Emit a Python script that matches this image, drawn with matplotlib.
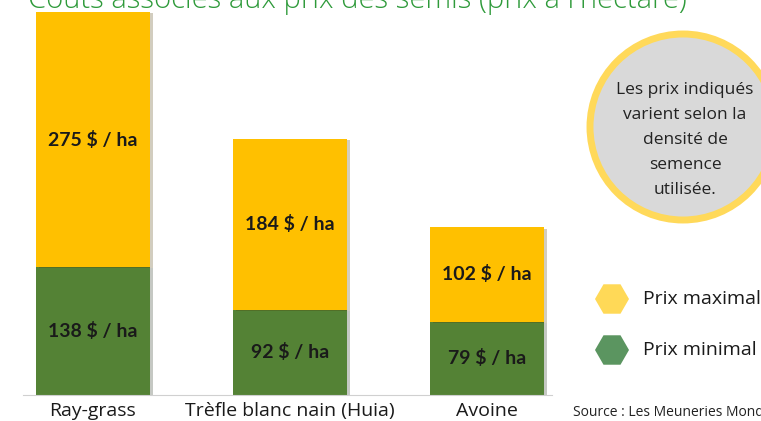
import matplotlib.pyplot as plt
import matplotlib.patheffects as pe
from matplotlib.patches import Circle, RegularPolygon

categories = ["Ray-grass", "Trèfle blanc nain (Huia)", "Avoine"]
prix_minimal = [138, 92, 79]
prix_maximal = [275, 184, 102]

title = "Coûts associés aux prix des semis (prix à l'hectare)"
note_lines = ["Les prix indiqués", "varient selon la", "densité de", "semence", "utilisée."]
legend_labels = ["Prix maximal", "Prix minimal"]
source = "Source : Les Meuneries Mondou"

YELLOW = "#FFC000"
GREEN = "#548235"
W, H = 761, 421

fig = plt.figure(figsize=(W / 100, H / 100), dpi=100)

# bar axes in pixel placement: x 23..552, baseline at y=395 from top
ax = fig.add_axes([23 / W, (H - 395) / H, (552 - 23) / W, 395 / H])
x = range(len(categories))
shadow = [pe.SimplePatchShadow(offset=(2, -1), alpha=0.25), pe.Normal()]
ax.bar(x, prix_minimal, width=0.577, color=GREEN, path_effects=shadow, zorder=2)
ax.bar(x, prix_maximal, width=0.577, bottom=prix_minimal, color=YELLOW,
       path_effects=shadow, zorder=2)
for i, (lo, hi) in enumerate(zip(prix_minimal, prix_maximal)):
    ax.text(i, lo / 2, f"{lo} $ / ha", ha="center", va="center",
            fontsize=14, fontweight="bold", color="#1a1a1a", family="Lato")
    ax.text(i, lo + hi / 2, f"{hi} $ / ha", ha="center", va="center",
            fontsize=14, fontweight="bold", color="#1a1a1a", family="Lato")

ax.set_xlim(-0.355, 2.33)
ax.set_ylim(0, 426)
ax.set_xticks(list(x))
ax.set_xticklabels(categories, fontsize=14, family="Open Sans", color="#1a1a1a")
ax.tick_params(axis="x", length=0, pad=5)
ax.set_yticks([])
for side in ["top", "left", "right"]:
    ax.spines[side].set_visible(False)
ax.spines["bottom"].set_color("#d0d0d0")

# overlay in pixel coordinates for title, note and legend
ov = fig.add_axes([0, 0, 1, 1])
ov.set_xlim(0, W)
ov.set_ylim(H, 0)
ov.axis("off")

ov.text(28, 8, title, fontsize=21, color="#2E9A3A", family="Open Sans",
        fontweight="light", ha="left", va="baseline")

ov.add_patch(Circle((683, 127), 93, facecolor="#D9D9D9", edgecolor="#FFD95A",
                    linewidth=5, clip_on=False))
for k, line in enumerate(note_lines):
    ov.text(685, 90 + 25 * k, line, fontsize=12.5, color="#222222",
            family="Open Sans", ha="center", va="center")

for (yc, color, label) in [(299, "#FFD957", legend_labels[0]),
                           (350, "#5B9560", legend_labels[1])]:
    ov.add_patch(RegularPolygon((612, yc), numVertices=6, radius=17,
                                orientation=3.14159 / 6, facecolor=color,
                                edgecolor="none"))
    ov.text(643, yc, label, fontsize=14, color="#1a1a1a", family="Open Sans",
            ha="left", va="center")

ov.text(573, 412, source, fontsize=10, color="#222222", family="Open Sans",
        ha="left", va="center")

fig.savefig("out.png", dpi=100)
